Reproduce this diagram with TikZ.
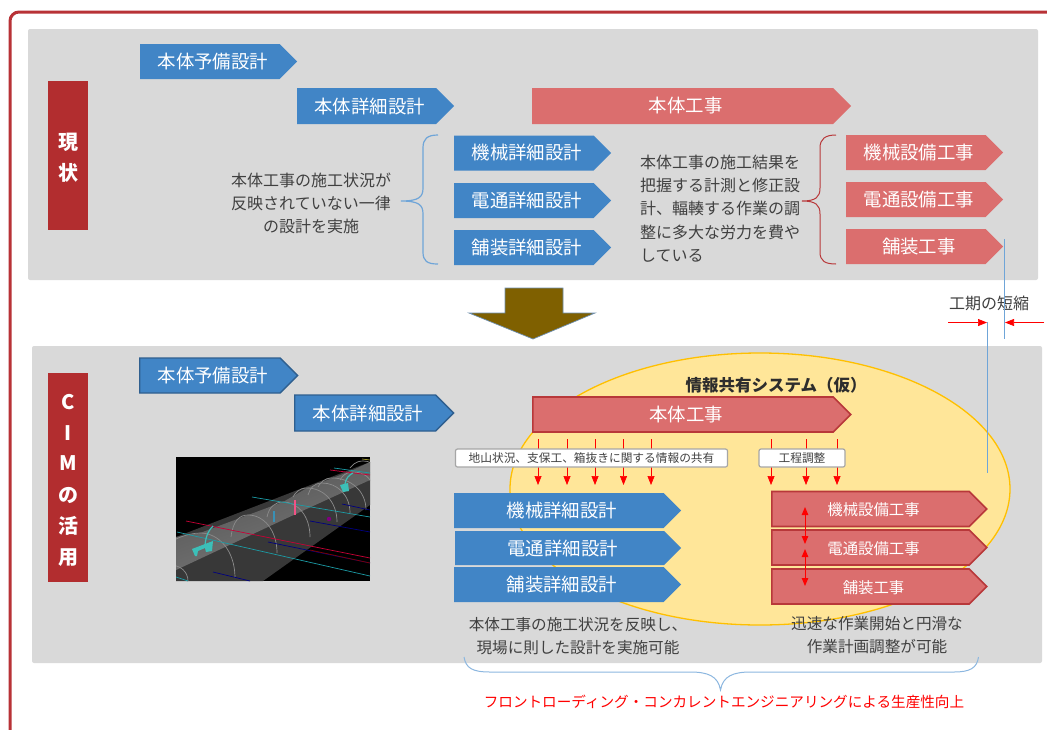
\documentclass[tikz,border=0pt]{standalone}
\usepackage{fontspec}
\setmainfont{Noto Sans CJK JP}
\usetikzlibrary{shapes.symbols,arrows.meta}
\definecolor{framered}{HTML}{B83236}
\definecolor{labelred}{HTML}{B22D2F}
\definecolor{panelgray}{HTML}{D9D9D9}
\definecolor{planblue}{HTML}{4185C6}
\definecolor{workred}{HTML}{DB6E6E}
\definecolor{edgeblue}{HTML}{2F5F8F}
\definecolor{edgered}{HTML}{B8383A}
\definecolor{inktext}{HTML}{404040}
\definecolor{bracketblue}{HTML}{6FA5D8}
\definecolor{areayellow}{HTML}{FFE699}
\definecolor{areaedge}{HTML}{FFC000}
\definecolor{turnbrown}{HTML}{7F6000}
\definecolor{ribgray}{HTML}{8C8C8C}
\definecolor{partteal}{HTML}{3CBFB8}
\definecolor{linecyan}{HTML}{1C9CA6}
\tikzset{
plate/.style={signal, signal to=east, signal pointer angle=90, inner sep=0pt, anchor=west, text=white, font=\fontsize{18.4}{20}\selectfont, execute at begin node=\hspace*{6pt}},
planplate/.style={plate, fill=planblue},
workplate/.style={plate, fill=workred},
planedge/.style={planplate, draw=edgeblue, line width=1.3pt},
workedge/.style={workplate, draw=edgered, line width=1.6pt},
stackwork/.style={workedge, minimum width=215, minimum height=35, text height=15pt, font=\fontsize{15.4}{18}\selectfont},
sidelabel/.style={fill=labelred, text=white, align=center, inner sep=0pt, minimum width=40, font=\bfseries\fontsize{20}{31}\selectfont},
note/.style={text=inktext, font=\fontsize{16}{23.3}\selectfont, inner sep=0pt},
tag/.style={draw=gray!70, line width=1.2pt, fill=white, rounded corners=2pt, text=inktext, inner sep=0pt, minimum height=18, font=\fontsize{11.7}{14}\selectfont},
flowline/.style={red, line width=0.7pt, -{Triangle[length=9pt,width=7pt]}},
bothline/.style={red, line width=1pt, {Triangle[length=8pt,width=6.5pt]}-{Triangle[length=8pt,width=6.5pt]}},
}
\begin{document}
\begin{tikzpicture}[x=1pt, y=-1pt]
\useasboundingbox (0,0) rectangle (1047,729);
\fill[white] (0,0) rectangle (1047,729);
\draw[framered, line width=3pt, rounded corners=9pt] (10,735) to (10,12) to (1055,12);
\fill[panelgray, rounded corners=2pt] (28,29) rectangle (1038,280);
\fill[panelgray, rounded corners=2pt] (32,346) rectangle (1042,663);
\node[sidelabel, minimum height=149] (nowlabel) at (68,155.5) {\rule{0pt}{21pt}現\\状};
\node[sidelabel, minimum height=209] (cimlabel) at (68,477.5) {\rule{0pt}{20pt}C\\I\\M\\の\\活\\用};
\node[planplate, minimum width=157, minimum height=35] (nowpre) at (140,61.5) {本体予備設計};
\node[planplate, minimum width=157, minimum height=36] (nowdet) at (297,106) {本体詳細設計};
\node[workplate, minimum width=319, minimum height=36] (nowmain) at (532,106) {本体工事};
\node[planplate, minimum width=157, minimum height=35] (nowmech) at (454,153) {機械詳細設計};
\node[planplate, minimum width=157, minimum height=35] (nowelec) at (454,200.5) {電通詳細設計};
\node[planplate, minimum width=157, minimum height=35] (nowpave) at (454,247.5) {舗装詳細設計};
\node[workplate, minimum width=157, minimum height=35] (nowmechw) at (846,152.5) {機械設備工事};
\node[workplate, minimum width=157, minimum height=35] (nowelecw) at (846,199.5) {電通設備工事};
\node[workplate, minimum width=157, minimum height=35] (nowpavew) at (846,246.5) {舗装工事};
\node[note, align=center] (nowleft) at (311,203.5) {本体工事の施工状況が\\反映されていない一律\\の設計を実施};
\node[note, align=left, anchor=west] (nowmid) at (640,208.5) {本体工事の施工結果を\\把握する計測と修正設\\計、輻輳する作業の調\\整に多大な労力を費や\\している};
\draw[bracketblue, line width=1.2pt] (438,135) .. controls (427,135) and (423,139) .. (423,148) to (423,188) .. controls (423,197) and (419,201) .. (401,201) .. controls (419,201) and (423,205) .. (423,214) to (423,252) .. controls (423,261) and (427,264) .. (438,264);
\draw[edgered, line width=1pt] (836,135) .. controls (825,135) and (820,139) .. (820,148) to (820,188) .. controls (820,197) and (816,201) .. (802,201) .. controls (816,201) and (820,205) .. (820,214) to (820,252) .. controls (820,261) and (825,264) .. (836,264);
\draw[fill=turnbrown, draw=edgeblue!70, line width=0.7pt] (505,288) to (563,288) to (563,313) to (595,313) to (533,339) to (469,313) to (505,313) to cycle;
\fill[areayellow] (760,489) ellipse [x radius=250, y radius=136];
\draw[areaedge, line width=1.3pt] (760,489) ellipse [x radius=250, y radius=136];
\node[text=inktext!70!black, font=\bfseries\fontsize{16.5}{20}\selectfont, inner sep=0pt] (systitle) at (776,385) {情報共有システム（仮）};
\node[planedge, minimum width=158, minimum height=35] (cimpre) at (139,375.5) {本体予備設計};
\node[planedge, minimum width=159, minimum height=36] (cimdet) at (294,413) {本体詳細設計};
\node[workedge, minimum width=318, minimum height=35] (cimmain) at (532,414.5) {本体工事};
\foreach \ax [count=\i] in {538,567,595,623.5,651,771,806,837} {
\coordinate (flowa\i) at (\ax,439);
\coordinate (flowb\i) at (\ax,485);
\draw[flowline] (flowa\i) to (flowb\i);
}
\node[tag, minimum width=272] (sharetag) at (591.5,458) {地山状況、支保工、箱抜きに関する情報の共有};
\node[tag, minimum width=86] (plantag) at (802,458) {工程調整};
\node[planplate, minimum width=227, minimum height=35] (cimmech) at (454,510.5) {機械詳細設計};
\node[planplate, minimum width=226, minimum height=34] (cimelec) at (455,548) {電通詳細設計};
\node[planplate, minimum width=227, minimum height=35] (cimpave) at (454,584.5) {舗装詳細設計};
\node[stackwork] (cimmechw) at (771,509) {機械設備工事};
\node[stackwork] (cimelecw) at (771,547.5) {電通設備工事};
\node[stackwork] (cimpavew) at (771,586.5) {舗装工事};
\coordinate (linka) at (805,507);
\coordinate (linkb) at (805,544);
\coordinate (linkc) at (805,549);
\coordinate (linkd) at (805,586);
\draw[bothline] (linka) to (linkb);
\draw[bothline] (linkc) to (linkd);
\node[note, align=center, font=\fontsize{15.6}{23}\selectfont] (cimleft) at (578,636.5) {本体工事の施工状況を反映し、\\現場に則した設計を実施可能};
\node[note, align=center, font=\fontsize{15.6}{22.5}\selectfont] (cimright) at (877,635) {迅速な作業開始と円滑な\\作業計画調整が可能};
\draw[bracketblue!80!white, line width=1pt] (464,657) .. controls (466,668) and (472,672) .. (490,672) to (690,672) .. controls (708,672) and (718,676) .. (720.5,690) .. controls (723,676) and (733,672) .. (751,672) to (954,672) .. controls (970,672) and (977,668) .. (978.5,657);
\node[text=red, font=\fontsize{14.6}{18}\selectfont, inner sep=0pt] (gainnote) at (724,702) {フロントローディング・コンカレントエンジニアリングによる生産性向上};
\node[text=inktext, font=\fontsize{16}{20}\selectfont, inner sep=0pt] (spanlabel) at (989,303) {工期の短縮};
\coordinate (spana) at (1004,239);
\coordinate (spanb) at (1004,339);
\coordinate (spanc) at (987,322);
\coordinate (spand) at (987,473);
\draw[bracketblue, line width=0.9pt] (spana) to (spanb);
\draw[bracketblue, line width=0.9pt] (spanc) to (spand);
\coordinate (spane) at (948,322.5);
\coordinate (spanf) at (1044,322.5);
\coordinate (spang) at (987,322.5);
\coordinate (spanh) at (1005,322.5);
\draw[flowline] (spane) to (spang);
\draw[flowline] (spanf) to (spanh);
\fill[black] (176,457) rectangle (370,581);
\begin{scope}
\clip (176,457) rectangle (370,581);
\fill[black!78] (176,537) to (370,462) to (370,505) to (263,581) to (176,581) to cycle;
\shade[top color=black!68, bottom color=black!52, shading angle=20] (176,537) to (200,533) to (248,515) to (283,502) to (307,488) to (353,470) to (370,462) to (370,480) to (300,512) to (176,570) to cycle;
\foreach \ra/\rb/\rc/\rd/\re/\rf in {160/560/200/533/235/578, 231/537/248/515/277/553, 267/517/283/502/310/537, 293/497/307/488/337/522, 308/495/322/483/350/513, 318/487/332/478/366/510, 340/480/353/472/372/487, 350/468/363/461/372/465, 165/570/170/565/188/581} {
\draw[ribgray, line width=0.7pt] (\ra,\rb) .. controls (\ra+2,{\rd+5}) and ({\rc-8},\rd) .. (\rc,\rd) .. controls ({\rc+0.55*(\re-\rc)},\rd) and (\re,{\rd+0.4*(\rf-\rd)}) .. (\re,\rf);
}
\draw[linecyan, line width=0.7pt] (177,532) to (370,576);
\draw[linecyan, line width=0.7pt] (252,497) to (370,517);
\draw[linecyan, line width=0.7pt] (334,468) to (370,473);
\draw[linecyan, line width=0.7pt] (176,577) to (188,581);
\draw[purple!85!red, line width=0.7pt] (186,521) to (370,558);
\draw[purple!85!red, line width=0.7pt] (330,470) to (370,475);
\draw[blue!50!black, line width=0.7pt] (268,542) to (370,563);
\draw[blue!50!black, line width=0.7pt] (213,572) to (250,581);
\draw[blue!50!black, line width=0.7pt] (310,521) to (370,532);
\draw[blue!50!black, line width=0.7pt] (342,504) to (370,510);
\draw[red!50!black, line width=0.7pt] (310,550) to (370,563);
\fill[partteal] (192,549) to (213,541) to (212,551) to (206,552) to (205,548) to (198,551) to (197,556) to (195,556) to cycle;
\draw[partteal, line width=1.2pt] (205,545) .. controls (206,535) and (209,530) .. (213,526);
\fill[partteal] (340,485) to (348,483) to (349,491) to (343,492) to cycle;
\draw[partteal, line width=1.2pt] (345,484) .. controls (346,478) and (349,475) .. (353,473);
\draw[cyan!70!black, line width=1.2pt] (274,511) to (274,522);
\draw[magenta!60!red!70, line width=1.5pt] (295,500) to (295,515);
\fill[violet] (329,519) circle (2.2);
\draw[yellow!70!black, line width=0.6pt] (362,459) to (370,460);
\end{scope}
\end{tikzpicture}
\end{document}
